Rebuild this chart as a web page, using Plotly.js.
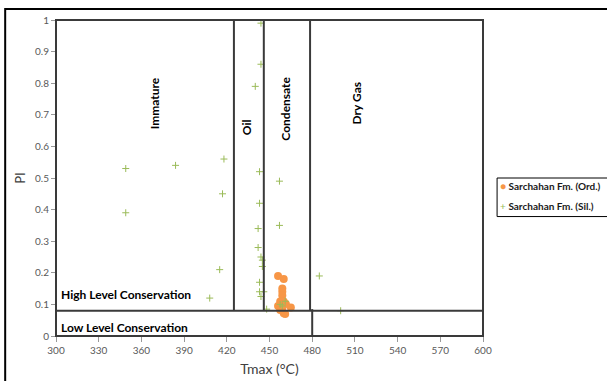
<!DOCTYPE html>
<html>
<head>
<meta charset="utf-8">
<script src="https://cdn.plot.ly/plotly-3.0.1.min.js"></script>
<style>html,body{margin:0;padding:0;background:#fff;}#chart{width:607px;height:381px;}</style>
</head>
<body>
<div id="chart"></div>
<script>
// Series: Sarchahan Fm. (Ord.)
var ordTmax = [456, 460, 459, 459, 459, 457.5, 460, 456, 459, 461.5, 465, 460, 461, 457.5];
var ordPI   = [0.19, 0.18, 0.15, 0.14, 0.128, 0.109, 0.109, 0.095, 0.088, 0.101, 0.09, 0.072, 0.07, 0.082];
// Series: Sarchahan Fm. (Sil.)
var silTmax = [349, 384, 418, 444, 444, 440, 443, 457, 349, 417, 415, 408, 443, 442, 442, 444, 445, 445, 443, 443, 446, 444, 448, 457, 485, 500, 461, 457.5, 459];
var silPI   = [0.53, 0.54, 0.56, 0.99, 0.86, 0.79, 0.52, 0.49, 0.39, 0.45, 0.21, 0.12, 0.42, 0.34, 0.28, 0.25, 0.24, 0.22, 0.17, 0.14, 0.14, 0.125, 0.085, 0.35, 0.19, 0.08, 0.11, 0.10, 0.095];
var seriesNames = ["Sarchahan Fm. (Ord.)", "Sarchahan Fm. (Sil.)"];
// Zone boundaries (Tmax) and conservation boundary (PI)
var zoneBounds = [425, 446, 478.5];
var lowerBound = 480;
var conservationPI = 0.08;
var zoneNames = ["Immature", "Oil", "Condensate", "Dry Gas"];
var zoneLabelTmax = [369, 434, 461, 511];
var zoneLabelPI = [0.737, 0.66, 0.72, 0.737];
var levelNames = ["High Level Conservation", "Low Level Conservation"];
var levelLabelPI = [0.13, 0.028];

var FONT = "Lato, 'Open Sans', sans-serif";
var lineColor = "#3a3a3a";

var traces = [
  {x: ordTmax, y: ordPI, name: seriesNames[0], type: "scatter", mode: "markers",
   marker: {symbol: "circle", size: 8, color: "#f79646"}},
  {x: silTmax, y: silPI, name: seriesNames[1], type: "scatter", mode: "markers",
   marker: {symbol: "cross-thin", size: 5, color: "#9bbb59", line: {color: "#9bbb59", width: 1}}}
];

var shapes = [];
// outer chart frame (cropped)
shapes.push({type: "rect", xref: "paper", yref: "paper", x0: -0.119, x1: 2, y0: -2, y1: 1.035,
  line: {color: "#000", width: 2}, layer: "below"});
// plot frame
shapes.push({type: "rect", xref: "paper", yref: "paper", x0: 0, x1: 1, y0: 0, y1: 1,
  line: {color: lineColor, width: 2}, layer: "above"});
shapes.push({type: "line", xref: "x", yref: "y", x0: 300, x1: 600, y0: conservationPI, y1: conservationPI,
  line: {color: lineColor, width: 2}});
zoneBounds.forEach(function (b) {
  shapes.push({type: "line", xref: "x", yref: "y", x0: b, x1: b, y0: conservationPI, y1: 1,
    line: {color: lineColor, width: 2}});
});
shapes.push({type: "line", xref: "x", yref: "y", x0: lowerBound, x1: lowerBound, y0: 0, y1: conservationPI + 0.005,
  line: {color: lineColor, width: 2}});
// legend box
shapes.push({type: "rect", xref: "paper", yref: "paper", x0: 1.033, x1: 1.4, y0: 0.378, y1: 0.5,
  line: {color: "#000", width: 1}});

var annotations = [];
zoneNames.forEach(function (n, i) {
  annotations.push({x: zoneLabelTmax[i], y: zoneLabelPI[i], xref: "x", yref: "y", text: "<b>" + n + "</b>",
    showarrow: false, textangle: -90, font: {family: FONT, size: 12, color: "#000"}});
});
levelNames.forEach(function (n, i) {
  annotations.push({x: 302, y: levelLabelPI[i], xref: "x", yref: "y", xanchor: "left", text: "<b>" + n + "</b>",
    showarrow: false, font: {family: FONT, size: 12, color: "#000"}});
});
// legend entries
annotations.push({xref: "paper", yref: "paper", x: 1.036, y: 0.474, xanchor: "left", yanchor: "middle", showarrow: false,
  text: '<span style="color:#f79646">●</span> <b>' + seriesNames[0] + '</b>', font: {family: FONT, size: 10, color: "#1a1a1a"}});
annotations.push({xref: "paper", yref: "paper", x: 1.036, y: 0.41, xanchor: "left", yanchor: "middle", showarrow: false,
  text: '<span style="color:#9bbb59">+</span> <b>' + seriesNames[1] + '</b>', font: {family: FONT, size: 10, color: "#1a1a1a"}});

var layout = {
  width: 607, height: 381,
  margin: {l: 56, r: 124, t: 20, b: 45},
  paper_bgcolor: "#fff", plot_bgcolor: "#fff",
  showlegend: false,
  font: {family: FONT, size: 10, color: "#595959"},
  xaxis: {range: [300, 600], dtick: 30, tick0: 300, showgrid: false, zeroline: false,
    ticks: "outside", ticklen: 5, tickcolor: "#999", showline: true, linecolor: "#999",
    tickfont: {family: FONT, size: 10, color: "#595959"},
    title: {text: "Tmax (°C)", font: {family: FONT, size: 14, color: "#404040"}, standoff: 9}},
  yaxis: {range: [0, 1], dtick: 0.1, tick0: 0, showgrid: false, zeroline: false,
    ticks: "outside", ticklen: 4, tickcolor: "#999", showline: true, linecolor: "#999",
    tickfont: {family: FONT, size: 10, color: "#595959"},
    title: {text: "PI", font: {family: FONT, size: 13, color: "#404040"}, standoff: 6}},
  shapes: shapes,
  annotations: annotations
};

Plotly.newPlot("chart", traces, layout, {displayModeBar: false, staticPlot: true});
</script>
</body>
</html>
